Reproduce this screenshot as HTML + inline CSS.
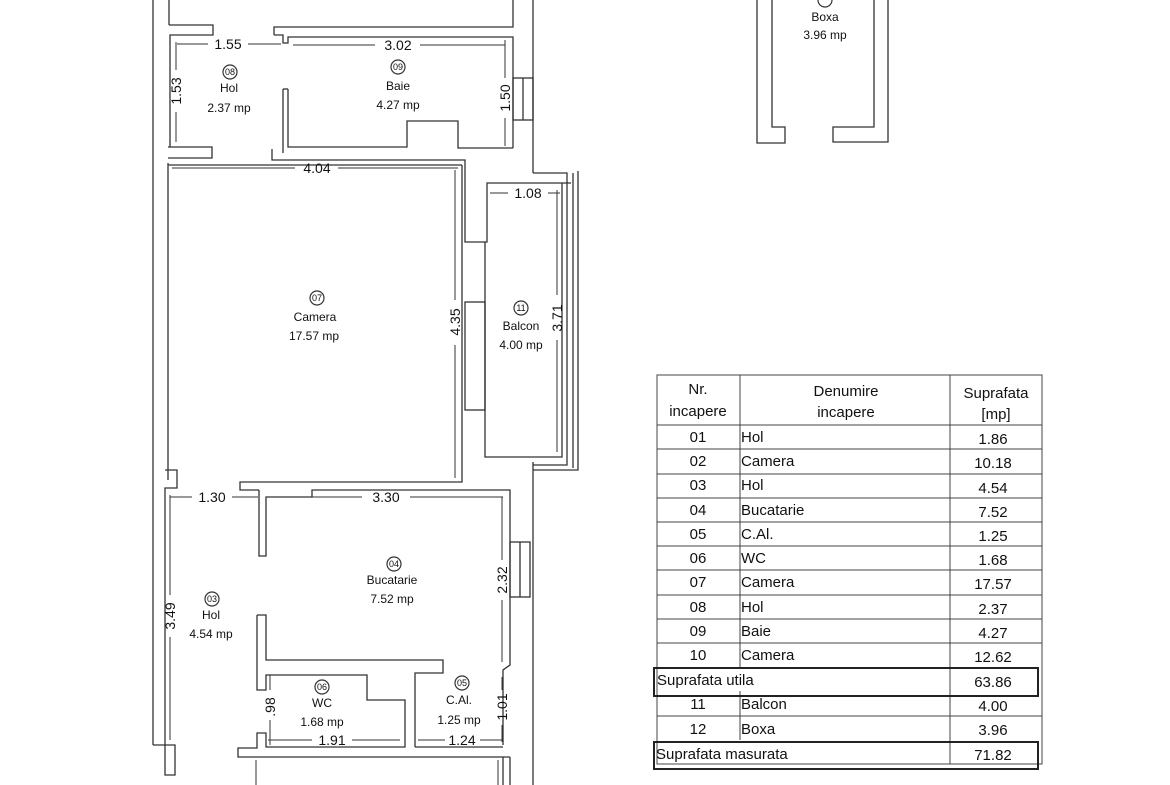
<!DOCTYPE html>
<html><head><meta charset="utf-8"><style>
html,body{margin:0;padding:0;background:#fff;}
svg{display:block;}
text{font-family:"Liberation Sans",sans-serif;fill:#111;}
</style></head><body>
<svg width="1170" height="785" viewBox="0 0 1170 785" xmlns="http://www.w3.org/2000/svg">
<g fill="none" stroke="#333" stroke-width="1.3">
<line x1="153" y1="0" x2="153" y2="745"/>
<polyline points="153,745 165,745 165,775 175,775 175,745 165,745"/>
<line x1="169" y1="0" x2="169" y2="25"/>
<polyline points="169,25 213,25 213,35 170,35 170,147"/>
<polyline points="168,147 212,147 212,158 168,158"/>
<polyline points="274,35 274,27 513,27 513,0"/>
<polyline points="274,35 283,35 283,43 288,43 288,37 513,37 513,148"/>
<polyline points="283,89 283,153"/>
<polyline points="288,89 288,147 407,147 407,121 458,121 458,148 513,148"/>
<polyline points="272,149 272,160 465,160 465,242 487,242 487,183 571,183"/>
<line x1="283" y1="89" x2="288" y2="89"/>
<rect x="513" y="78" width="20" height="42"/>
<line x1="523" y1="78" x2="523" y2="120"/>
<line x1="533" y1="0" x2="533" y2="173"/>
<line x1="533" y1="462" x2="533" y2="785"/>
<line x1="168" y1="163" x2="168" y2="480"/>
<line x1="168" y1="165" x2="462" y2="165"/>
<polyline points="462,165 462,482 240,482 240,490 259,490"/>
<rect x="465" y="302" width="20" height="108"/>
<polyline points="485,242 485,457 562,457 562,183"/>
<polyline points="533,173 567,173 567,465 533,465"/>
<polyline points="573,173 573,468"/>
<polyline points="578,171 578,470 533,470"/>
<polyline points="165,470 177,470 177,488 165,488 165,745"/>
<polyline points="259,490 259,556 266,556 266,497 312,497 312,490 510,490 510,665 503,670 503,745"/>
<rect x="510" y="542" width="20" height="55"/>
<line x1="520" y1="542" x2="520" y2="597"/>
<polyline points="257,615 266,615 266,660 443,660 443,673 415,673 415,747"/>
<polyline points="257,615 257,690 266,690 266,675 367,675 367,700 405,700 405,747 266,747 266,733 257,733 257,748 238,748 238,757 510,757"/>
<line x1="415" y1="747" x2="503" y2="747"/>
<line x1="503" y1="757" x2="503" y2="785"/>
<line x1="510" y1="757" x2="510" y2="785"/>
<polyline points="757,0 757,143 785,143 785,127 772,127 772,0"/>
<polyline points="888,0 888,142 833,142 833,127 874,127 874,0"/>
</g>
<g stroke="#333" stroke-width="1">
<line x1="177" y1="44" x2="208" y2="44"/><line x1="248" y1="44" x2="281" y2="44"/>
<line x1="293" y1="45" x2="375" y2="45"/><line x1="420" y1="45" x2="505" y2="45"/>
<line x1="176" y1="42" x2="176" y2="70"/><line x1="176" y1="112" x2="176" y2="142"/>
<line x1="505" y1="40" x2="505" y2="78"/><line x1="505" y1="118" x2="505" y2="146"/>
<line x1="172" y1="168" x2="295" y2="168"/><line x1="338" y1="168" x2="458" y2="168"/>
<line x1="455" y1="170" x2="455" y2="300"/><line x1="455" y1="345" x2="455" y2="478"/>
<line x1="490" y1="193" x2="508" y2="193"/><line x1="548" y1="193" x2="560" y2="193"/>
<line x1="557" y1="190" x2="557" y2="295"/><line x1="557" y1="340" x2="557" y2="452"/>
<line x1="170" y1="497" x2="192" y2="497"/><line x1="232" y1="497" x2="258" y2="497"/>
<line x1="270" y1="497" x2="362" y2="497"/><line x1="410" y1="497" x2="503" y2="497"/>
<line x1="170" y1="495" x2="170" y2="595"/><line x1="170" y1="637" x2="170" y2="740"/>
<line x1="502" y1="497" x2="502" y2="560"/><line x1="502" y1="600" x2="502" y2="662"/>
<line x1="502" y1="677" x2="502" y2="690"/><line x1="502" y1="725" x2="502" y2="742"/>
<line x1="270" y1="675" x2="270" y2="690"/><line x1="270" y1="720" x2="270" y2="745"/>
<line x1="268" y1="740" x2="312" y2="740"/><line x1="352" y1="740" x2="400" y2="740"/>
<line x1="418" y1="740" x2="445" y2="740"/><line x1="480" y1="740" x2="503" y2="740"/>
<line x1="256" y1="760" x2="256" y2="785"/><line x1="498" y1="760" x2="498" y2="785"/>
</g>
<g stroke="#333" stroke-width="1.2" fill="none">
<circle cx="230" cy="72" r="7"/><circle cx="398" cy="67" r="7"/>
<circle cx="317" cy="298" r="7"/><circle cx="521" cy="308" r="7"/>
<circle cx="394" cy="564" r="7"/><circle cx="212" cy="599" r="7"/>
<circle cx="322" cy="687" r="7"/><circle cx="462" cy="683" r="7"/>
<circle cx="825" cy="0" r="7"/>
</g>
<g font-size="9" text-anchor="middle">
<text x="230" y="75">08</text><text x="398" y="70">09</text><text x="317" y="301">07</text>
<text x="521" y="311">11</text><text x="394" y="567">04</text><text x="212" y="602">03</text>
<text x="322" y="690">06</text><text x="462" y="686">05</text>
</g>
<g font-size="12" text-anchor="middle">
<text x="229" y="92">Hol</text><text x="229" y="112">2.37 mp</text>
<text x="398" y="90">Baie</text><text x="398" y="109">4.27 mp</text>
<text x="315" y="321">Camera</text><text x="314" y="340">17.57 mp</text>
<text x="521" y="330">Balcon</text><text x="521" y="349">4.00 mp</text>
<text x="392" y="584">Bucatarie</text><text x="392" y="603">7.52 mp</text>
<text x="211" y="619">Hol</text><text x="211" y="638">4.54 mp</text>
<text x="322" y="707">WC</text><text x="322" y="726">1.68 mp</text>
<text x="459" y="704">C.Al.</text><text x="459" y="724">1.25 mp</text>
<text x="825" y="21">Boxa</text><text x="825" y="39">3.96 mp</text>
</g>
<g font-size="14" text-anchor="middle">
<text x="228" y="49">1.55</text><text x="398" y="50">3.02</text>
<text x="317" y="173">4.04</text><text x="528" y="198">1.08</text>
<text x="212" y="502">1.30</text><text x="386" y="502">3.30</text>
<text x="332" y="745">1.91</text><text x="462" y="745">1.24</text>
<text transform="translate(181,91) rotate(-90)">1.53</text>
<text transform="translate(510,98) rotate(-90)">1.50</text>
<text transform="translate(460,322) rotate(-90)">4.35</text>
<text transform="translate(562,318) rotate(-90)">3.71</text>
<text transform="translate(175,616) rotate(-90)">3.49</text>
<text transform="translate(507,580) rotate(-90)">2.32</text>
<text transform="translate(507,707) rotate(-90)">1.01</text>
<text transform="translate(275,707) rotate(-90)">.98</text>
</g>
<g stroke="#444" stroke-width="1" fill="none">
<rect x="657" y="375" width="385" height="389"/>
<line x1="740" y1="375" x2="740" y2="667"/><line x1="950" y1="375" x2="950" y2="764"/>
<line x1="740" y1="691" x2="740" y2="740"/>
<line x1="657" y1="425" x2="1042" y2="425"/>
<line x1="657" y1="449" x2="1042" y2="449"/><line x1="657" y1="474" x2="1042" y2="474"/>
<line x1="657" y1="498" x2="1042" y2="498"/><line x1="657" y1="522" x2="1042" y2="522"/>
<line x1="657" y1="546" x2="1042" y2="546"/><line x1="657" y1="570" x2="1042" y2="570"/>
<line x1="657" y1="595" x2="1042" y2="595"/><line x1="657" y1="619" x2="1042" y2="619"/>
<line x1="657" y1="643" x2="1042" y2="643"/><line x1="657" y1="716" x2="1042" y2="716"/>
</g>
<g stroke="#222" stroke-width="2" fill="none">
<rect x="654" y="668" width="384" height="28"/>
<rect x="654" y="742" width="384" height="27"/>
</g>
<g font-size="15">
<g text-anchor="middle">
<text x="698" y="394">Nr.</text><text x="698" y="416">incapere</text>
<text x="846" y="396">Denumire</text><text x="846" y="417">incapere</text>
<text x="996" y="398">Suprafata</text><text x="996" y="419">[mp]</text>
<text x="698" y="442">01</text><text x="698" y="466">02</text><text x="698" y="490">03</text>
<text x="698" y="515">04</text><text x="698" y="539">05</text><text x="698" y="563">06</text>
<text x="698" y="587">07</text><text x="698" y="612">08</text><text x="698" y="636">09</text>
<text x="698" y="660">10</text><text x="698" y="709">11</text><text x="698" y="734">12</text>
<text x="993" y="444">1.86</text><text x="993" y="468">10.18</text><text x="993" y="493">4.54</text>
<text x="993" y="517">7.52</text><text x="993" y="541">1.25</text><text x="993" y="565">1.68</text>
<text x="993" y="589">17.57</text><text x="993" y="614">2.37</text><text x="993" y="638">4.27</text>
<text x="993" y="662">12.62</text><text x="993" y="687">63.86</text><text x="993" y="711">4.00</text>
<text x="993" y="735">3.96</text><text x="993" y="760">71.82</text>
</g>
<text x="741" y="442">Hol</text><text x="741" y="466">Camera</text><text x="741" y="490">Hol</text>
<text x="741" y="515">Bucatarie</text><text x="741" y="539">C.Al.</text><text x="741" y="563">WC</text>
<text x="741" y="587">Camera</text><text x="741" y="612">Hol</text><text x="741" y="636">Baie</text>
<text x="741" y="660">Camera</text><text x="741" y="709">Balcon</text><text x="741" y="734">Boxa</text>
<text x="657" y="685">Suprafata utila</text><text x="656" y="759">Suprafata masurata</text>
</g>
</svg>
</body></html>
